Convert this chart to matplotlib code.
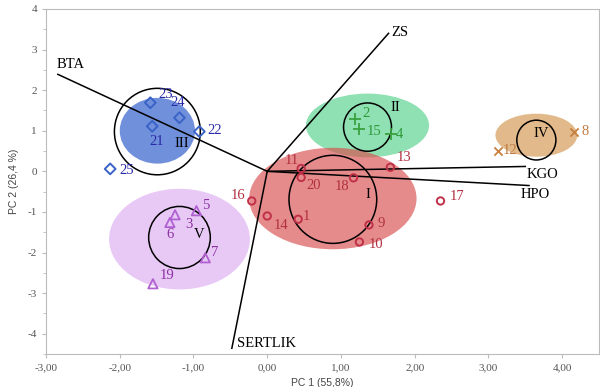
import matplotlib.pyplot as plt
import matplotlib.ticker as ticker
from matplotlib.patches import Ellipse

# sample scores (PC1, PC2) per group
g1_x = [0.42, 1.38, 1.25, 0.46, 1.67, 0.00, -0.21, 2.35, 1.17, 0.46]
g1_y = [-1.18, -1.32, -1.74, 0.07, 0.10, -1.10, -0.73, -0.73, -0.16, -0.15]
g1_lab = ["1", "9", "10", "11", "13", "14", "16", "17", "18", "20"]

g2_x = [1.19, 1.24, 1.68]
g2_y = [1.30, 1.05, 0.93]
g2_lab = ["2", "15", "4"]

g3_x = [-1.56, -0.92, -1.585, -1.19, -2.13]
g3_y = [1.11, 0.98, 1.69, 1.32, 0.06]
g3_lab = ["21", "22", "23", "24", "25"]

g4_x = [4.16, 3.13]
g4_y = [0.97, 0.51]
g4_lab = ["8", "12"]

g5_x = [-1.25, -0.96, -1.32, -0.84, -1.55]
g5_y = [-1.07, -0.97, -1.26, -2.13, -2.77]
g5_lab = ["3", "5", "6", "7", "19"]

# variable loadings
var_names = ["BTA", "ZS", "KGO", "HPO", "SERTLIK"]
var_x = [-2.84, 1.645, 3.50, 3.55, -0.48]
var_y = [2.39, 3.40, 0.12, -0.35, -4.36]

fig = plt.figure(figsize=(6, 3.87), dpi=100)
ax = fig.add_axes([0.0767, 0.0853, 0.9217, 0.8915])
ax.set_xlim(-3.0, 4.5)
ax.set_ylim(-4.5, 4.0)

serif = "Liberation Serif"

# filled group ellipses
ax.add_patch(Ellipse((1.36, 1.13), 1.67, 1.57, color=(0.2, 0.78, 0.45), alpha=0.55, lw=0, zorder=1))
ax.add_patch(Ellipse((0.89, -0.67), 2.27, 2.50, color=(0.85, 0.3, 0.3), alpha=0.65, lw=0, zorder=1))
ax.add_patch(Ellipse((-1.49, 1.00), 1.02, 1.62, color="#7090db", lw=0, zorder=1))
ax.add_patch(Ellipse((3.65, 0.89), 1.11, 1.06, color="#e2b98a", lw=0, zorder=1))
ax.add_patch(Ellipse((-1.19, -1.67), 1.91, 2.48, color="#e8c9f6", lw=0, zorder=1))

# black circles
for c, w, h in [((0.89, -0.69), 1.19, 2.17), ((1.36, 1.09), 0.65, 1.19),
                ((-1.49, 0.98), 1.165, 2.13), ((3.65, 0.77), 0.53, 0.98),
                ((-1.19, -1.63), 0.836, 1.53)]:
    ax.add_patch(Ellipse(c, w, h, fill=False, ec="black", lw=1.1, zorder=3))

for txt, x, y in [("I", 1.37, -0.58), ("II", 1.74, 1.57), ("III", -1.16, 0.68),
                  ("IV", 3.72, 0.92), ("V", -0.92, -1.55)]:
    ax.text(x, y, txt, family=serif, fontsize=10.5, ha="center", va="center", zorder=5)

# biplot vectors
for name, x, y in zip(var_names, var_x, var_y):
    ax.plot([0, x], [0, y], color="black", lw=1.1, zorder=4)
ax.text(-2.85, 2.62, "BTA", family=serif, fontsize=10.5, ha="left", va="center")
ax.text(1.68, 3.43, "ZS", family=serif, fontsize=10.5, ha="left", va="center")
ax.text(3.52, -0.09, "KGO", family=serif, fontsize=10.5, ha="left", va="center")
ax.text(3.44, -0.56, "HPO", family=serif, fontsize=10.5, ha="left", va="center")
ax.text(-0.41, -4.24, "SERTLIK", family=serif, fontsize=10.5, ha="left", va="center")


def label_points(xs, ys, labs, offs, color):
    for x, y, s, (dx, dy) in zip(xs, ys, labs, offs):
        ax.annotate(s, (x, y), xytext=(dx, dy), textcoords="offset points",
                    family=serif, fontsize=10.5, color=color, ha="center", va="center", zorder=6)


ax.scatter(g1_x, g1_y, marker="o", s=28, facecolors="none", edgecolors="#c03048", linewidths=1.4, zorder=5)
label_points(g1_x, g1_y, g1_lab,
             [(6, 2), (9, 1), (12, -2), (-7, 6), (10, 7), (10, -7), (-10, 4), (12, 3), (-8, -6), (9, -6)],
             "#b03040")
ax.scatter(g2_x, g2_y, marker="+", s=70, color="#3aa040", linewidths=1.3, zorder=5)
label_points(g2_x, g2_y, g2_lab, [(8, 4), (11, -2), (6, -1)], "#2e9a3a")
ax.scatter(g3_x, g3_y, marker="D", s=30, facecolors="none", edgecolors="#3a63c8", linewidths=1.4, zorder=5)
label_points(g3_x, g3_y, g3_lab, [(3, -11), (11, 1), (11, 6), (-1, 11), (12, -1)], "#2a2aa8")
ax.scatter(g4_x, g4_y, marker="x", s=35, color="#c8803f", linewidths=1.3, zorder=5)
label_points(g4_x, g4_y, g4_lab, [(8, 0), (9, 0)], "#c07a40")
ax.scatter(g5_x, g5_y, marker="^", s=45, facecolors="none", edgecolors="#b060d0", linewidths=1.3, zorder=5)
label_points(g5_x, g5_y, g5_lab, [(10, -7), (7, 4), (0, -9), (7, 4), (10, 6)], "#8a30a0")

# axes styling
for sp in ax.spines.values():
    sp.set_color("#bbbbbb")
ax.xaxis.set_major_locator(ticker.MultipleLocator(1))
ax.yaxis.set_major_locator(ticker.MultipleLocator(1))
ax.yaxis.set_minor_locator(ticker.MultipleLocator(0.5))
ax.xaxis.set_major_formatter(ticker.FuncFormatter(lambda v, p: f"{v:.2f}".replace(".", ",")))
ax.yaxis.set_major_formatter(ticker.FuncFormatter(lambda v, p: f"{v:.0f}"))
ax.tick_params(colors="#bbbbbb", labelcolor="#555555", labelsize=8, length=3)
ax.tick_params(which="minor", length=2, colors="#bbbbbb")
for lab in ax.get_xticklabels() + ax.get_yticklabels():
    lab.set_family(serif)
ax.set_xlabel("PC 1 (55,8%)", family="Liberation Sans", fontsize=7.5, color="#444444", labelpad=4)
ax.set_ylabel("PC 2 (26,4 %)", family="Liberation Sans", fontsize=7.5, color="#444444", labelpad=6)

fig.savefig("out.png", dpi=100)
